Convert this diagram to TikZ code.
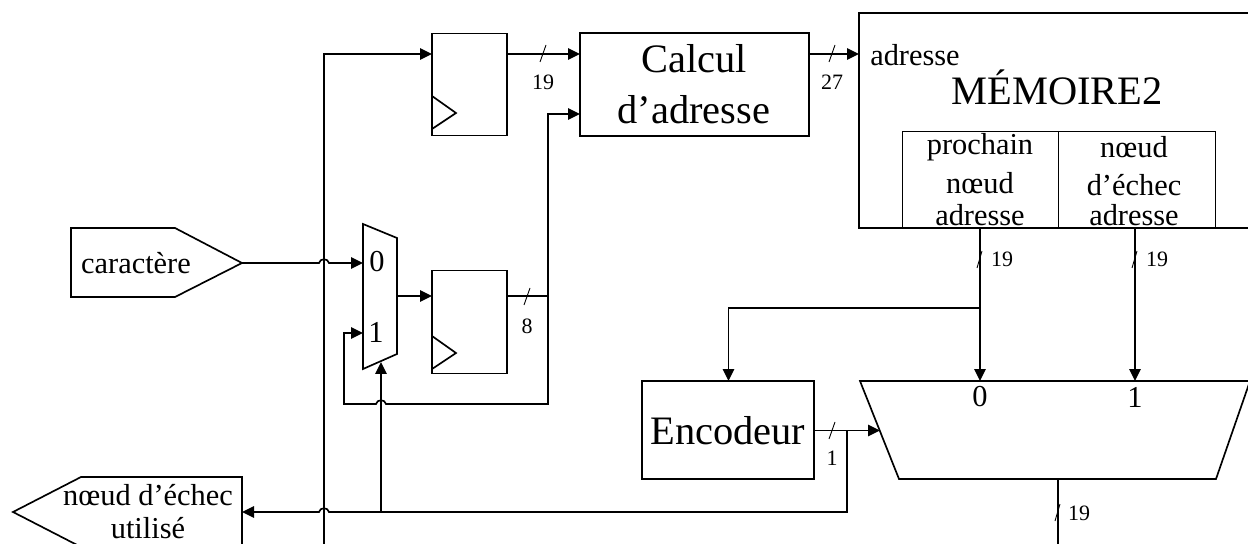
\documentclass[tikz,border=0pt]{standalone}
\usepackage{fontspec}
\usepackage{tikz}
\usetikzlibrary{arrows.meta}
\setmainfont{Liberation Serif}

\tikzset{
  wire/.style={line width=0.95pt},
  flow/.style={wire,-{Triangle[length=0.24cm,width=0.23cm]}},
  thinline/.style={line width=0.5pt},
  bigbox/.style={draw,line width=1.3pt,inner sep=0pt},
  regbox/.style={draw,line width=0.8pt,inner sep=0pt,minimum width=1.5cm,minimum height=2.05cm},
  bigtext/.style={inner sep=0pt,font=\fontsize{23}{23}\selectfont},
  midtext/.style={inner sep=0pt,font=\fontsize{17.3}{17.3}\selectfont},
  smalltext/.style={inner sep=0pt,font=\fontsize{12.5}{12.5}\selectfont}
}

\begin{document}
\begin{tikzpicture}[x=0.02cm,y=-0.02cm]
    \useasboundingbox (0,0) rectangle (1248,544);
    \clip (0,0) rectangle (1248,544);

    % Input and output flags
    \draw[wire] (71,228) -- (175,228) -- (242,263) -- (175,297) -- (71,297) -- cycle;
    \draw[wire] (242,477) -- (81,477) -- (13,512) -- (81,547) -- (242,547) -- cycle;
    \coordinate (charout) at (242,263);
    \coordinate (failin) at (242,512);
    \node[midtext] (charlabel) at (136,263) {caractère};
    \node[midtext] (failtop) at (148,495) {nœud d’échec};
    \node[midtext] (failbottom) at (148,528) {utilisé};

    % Small multiplexer
    \draw[wire] (363,224) -- (397,238) -- (397,354) -- (363,369) -- cycle;
    \coordinate (muxzero) at (363,263);
    \coordinate (muxone) at (363,333);
    \coordinate (muxsel) at (381,362);
    \coordinate (muxout) at (397,296);
    \node[midtext] (muxzerolabel) at (377,262) {0};
    \node[midtext] (muxonelabel) at (376,332) {1};

    % Registers
    \node[regbox] (regtop) at (469.5,84.5) {};
    \node[regbox] (regmid) at (469.5,322) {};
    \draw[wire] (432,96) -- (456,113) -- (432,129);
    \draw[wire] (432,336) -- (456,353) -- (432,369);
    \coordinate (regtopin) at (432,54);
    \coordinate (regtopout) at (507,54);
    \coordinate (regmidin) at (432,296);
    \coordinate (regmidout) at (507,296);

    % Address block
    \node[bigbox,minimum width=4.58cm,minimum height=2.06cm] (calc) at (694.5,84.5) {};
    \node[bigtext] (calctop) at (694,59) {Calcul};
    \node[bigtext] (calcbottom) at (694,110) {d’adresse};
    \coordinate (calcintop) at (580,54);
    \coordinate (calcinlow) at (580,114);
    \coordinate (calcout) at (809,54);

    % Memory
    \draw[line width=1.1pt] (1260,13) -- (859,13) -- (859,228) -- (1260,228);
    \coordinate (memin) at (859,54);
    \draw[thinline] (902,228) -- (902,131) -- (1215,131) -- (1215,228);
    \draw[thinline] (1058,131) -- (1058,228);
    \coordinate (memnext) at (980,228);
    \coordinate (memfail) at (1135,228);
    \node[midtext] (memaddr) at (915,55) {adresse};
    \node[bigtext] (memname) at (1057,87) {MÉMOIRE2};
    \node[midtext] (nextone) at (980,147) {prochain};
    \node[midtext] (nexttwo) at (980,183) {nœud};
    \node[midtext] (nextthree) at (980,215) {adresse};
    \node[midtext] (failone) at (1134,147) {nœud};
    \node[midtext] (failtwo) at (1134,185) {d’échec};
    \node[midtext] (failthree) at (1134,215) {adresse};

    % Encoder and large multiplexer
    \node[bigbox,minimum width=3.44cm,minimum height=1.96cm] (enc) at (728,430) {};
    \node[bigtext] (enctext) at (728,431) {Encodeur};
    \draw[wire] (860,381) -- (1250,381) -- (1216,479) -- (899,479) -- cycle;
    \coordinate (encin) at (728.5,381);
    \coordinate (encout) at (814,430.5);
    \coordinate (bigmuxsel) at (880,430.5);
    \coordinate (bigmuxzero) at (980,381);
    \coordinate (bigmuxone) at (1135,381);
    \coordinate (bigmuxout) at (1058,479);
    \node[midtext] (bigzero) at (980,397) {0};
    \node[midtext] (bigone) at (1135,397) {1};

    % Free ends and branch points
    \coordinate (addrstart) at (324,544);
    \coordinate (addrcorner) at (324,54);
    \coordinate (regbranch) at (548,296);
    \coordinate (calccorner) at (548,114);
    \coordinate (loopcorner) at (548,404);
    \coordinate (loopleft) at (344,404);
    \coordinate (loopup) at (344,333);
    \coordinate (encbranch) at (847,430.5);
    \coordinate (enccorner) at (847,512);
    \coordinate (selbranch) at (381,512);
    \coordinate (nextbranch) at (980,308);
    \coordinate (enctopcorner) at (728.5,308);
    \coordinate (bigout) at (1058,544);

    % Connectors
    \draw[flow] (addrstart) -- (addrcorner) -- (regtopin);
    \draw[flow] (charout) -- (319,263) .. controls +(1,-5) and +(-1,-5) .. (329,263) -- (muxzero);
    \draw[flow] (muxout) -- (regmidin);
    \draw[flow] (regtopout) -- (calcintop);
    \draw[flow] (calcout) -- (memin);
    \draw[wire] (regmidout) -- (regbranch);
    \draw[flow] (regbranch) -- (calccorner) -- (calcinlow);
    \draw[flow] (regbranch) -- (loopcorner) -- (386,404) .. controls +(-1,-5) and +(1,-5) .. (376,404) -- (loopleft) -- (loopup) -- (muxone);
    \draw[flow] (selbranch) -- (muxsel);
    \draw[flow] (encbranch) -- (enccorner) -- (329,512) .. controls +(-1,-5) and +(1,-5) .. (319,512) -- (failin);
    \draw[flow] (encout) -- (bigmuxsel);
    \draw[flow] (memnext) -- (bigmuxzero);
    \draw[flow] (memfail) -- (bigmuxone);
    \draw[flow] (nextbranch) -- (enctopcorner) -- (encin);
    \draw[wire] (bigmuxout) -- (bigout);

    % Bus widths
    \draw[thinline] (540,62) -- (546,45);
    \node[smalltext] (widtha) at (543,82) {19};
    \draw[thinline] (829,62) -- (835,45);
    \node[smalltext] (widthb) at (832,82) {27};
    \draw[thinline] (524,305) -- (530,288);
    \node[smalltext] (widthc) at (527,326) {8};
    \draw[thinline] (977,268) -- (982,251);
    \node[smalltext] (widthd) at (1002,259) {19};
    \draw[thinline] (1132,268) -- (1137,251);
    \node[smalltext] (widthe) at (1157,259) {19};
    \draw[thinline] (829,439) -- (835,422);
    \node[smalltext] (widthf) at (832,458) {1};
    \draw[thinline] (1055,521) -- (1060,504);
    \node[smalltext] (widthg) at (1079,513) {19};
\end{tikzpicture}
\end{document}
